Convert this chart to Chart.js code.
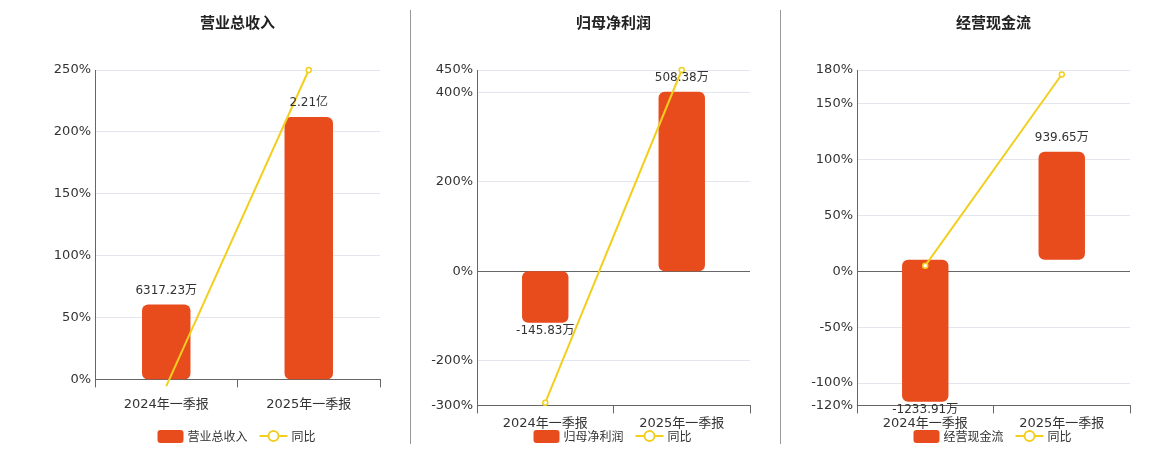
<!DOCTYPE html><html><head><meta charset="utf-8">
<script src="https://cdn.jsdelivr.net/npm/chart.js@4/dist/chart.umd.min.js"></script>
<style>body{margin:0;width:1160px;height:450px;background:#fff;position:relative;font-family:"DejaVu Sans",sans-serif}
.p{position:absolute;top:0;height:450px}.sep{position:absolute;top:10px;height:434px;width:1px;background:#999}</style></head><body>
<div class="p" style="left:0;width:400px"><canvas id="c1"></canvas></div>
<div class="p" style="left:411px;width:360px"><canvas id="c2"></canvas></div>
<div class="p" style="left:781px;width:370px"><canvas id="c3"></canvas></div>
<div class="sep" style="left:410px"></div><div class="sep" style="left:780px"></div>
<script>
const categories=["2024年一季报","2025年一季报"];
const revenue=[6317.23,22100], revenueLabels=["6317.23万","2.21亿"], revenueYoY=[-5.5,250];
const profit=[-145.83,508.38], profitLabels=["-145.83万","508.38万"], profitYoY=[-294,450];
const cash=[-1233.91,939.65], cashLabels=["-1233.91万","939.65万"], cashYoY=[5,176];
const ticks1=[0,50,100,150,200,250], ticks2=[-300,-200,0,200,400,450], ticks3=[-120,-100,-50,0,50,100,150,180];
const FONT='"DejaVu Sans","Noto Sans CJK SC",sans-serif';
function make(id,title,barName,bars,labels,yoy,ticks,barMin,barMax,yW,rightPad,bottomPad,xPad){
 const min=ticks[0],max=ticks[ticks.length-1];
 const el=document.getElementById(id);el.width=el.parentNode.offsetWidth;el.height=450;
 new Chart(el,{data:{labels:categories,datasets:[
  {type:'line',label:'同比',data:yoy,yAxisID:'y',borderColor:'#F2CF1F',borderWidth:2,pointRadius:2.5,pointBackgroundColor:'#fff',pointBorderColor:'#F2CF1F',pointBorderWidth:1.5,clip:false,order:0},
  {type:'bar',label:barName,data:bars,yAxisID:'yb',backgroundColor:'#E84B1C',borderRadius:6,borderSkipped:false,barPercentage:0.34,categoryPercentage:1,order:1}]},
 options:{responsive:false,animation:false,layout:{padding:{top:70,right:rightPad,bottom:bottomPad}},
  plugins:{legend:{display:false},tooltip:{enabled:false}},
  scales:{x:{grid:{display:true,drawOnChartArea:false,tickLength:8,color:'#666'},border:{color:'#666'},ticks:{font:{family:FONT,size:13},color:'#333',padding:xPad}},
   y:{min,max,afterBuildTicks:a=>{a.ticks=ticks.map(v=>({value:v}))},afterFit:a=>{a.width=yW},
     grid:{color:c=>c.tick.value===0?'#666':'#e3e6ee',tickLength:0},border:{color:'#666'},
     ticks:{font:{family:FONT,size:13},color:'#333',padding:4,callback:v=>v+'%'}},
   yb:{display:false,min:barMin,max:barMax}}},
 plugins:[{id:'deco',afterDatasetsDraw(ch){const ctx=ch.ctx;ctx.save();
   ctx.font='12px '+FONT;ctx.fillStyle='#333';ctx.textAlign='center';
   ch.getDatasetMeta(1).data.forEach((b,i)=>{const neg=bars[i]<0;ctx.textBaseline=neg?'top':'bottom';ctx.fillText(labels[i],b.x,neg?b.y+2:b.y-8);});
   ctx.font='bold 15px "Noto Sans CJK SC",sans-serif';ctx.textBaseline='middle';ctx.fillStyle='#222';ctx.fillText(title,(ch.chartArea.left+ch.chartArea.right)/2,22);
   const cx=(ch.chartArea.left+ch.chartArea.right)/2,y=436;ctx.font='12px "Noto Sans CJK SC",sans-serif';ctx.textAlign='left';
   const w1=ctx.measureText(barName).width,total=26+4+w1+12+30+4+24;let x=cx-total/2;
   ctx.fillStyle='#E84B1C';ctx.beginPath();ctx.roundRect(x,y-6,26,13,3);ctx.fill();x+=30;ctx.fillStyle='#333';ctx.fillText(barName,x,y);x+=w1+12;
   ctx.strokeStyle='#F2CF1F';ctx.lineWidth=2;ctx.beginPath();ctx.moveTo(x,y);ctx.lineTo(x+28,y);ctx.stroke();
   ctx.beginPath();ctx.arc(x+14,y,5,0,Math.PI*2);ctx.fillStyle='#fff';ctx.fill();ctx.stroke();x+=32;ctx.fillStyle='#333';ctx.fillText('同比',x,y);
   ctx.restore();}}]});
}
make('c1','营业总收入','营业总收入',revenue,revenueLabels,revenueYoY,ticks1,0,26060,95,20,29,9);
make('c2','归母净利润','归母净利润',profit,profitLabels,profitYoY,ticks2,-380,570,66,21,17,2);
make('c3','经营现金流','经营现金流',cash,cashLabels,cashYoY,ticks3,-1265,1650,76,21,17,2);
</script></body></html>
